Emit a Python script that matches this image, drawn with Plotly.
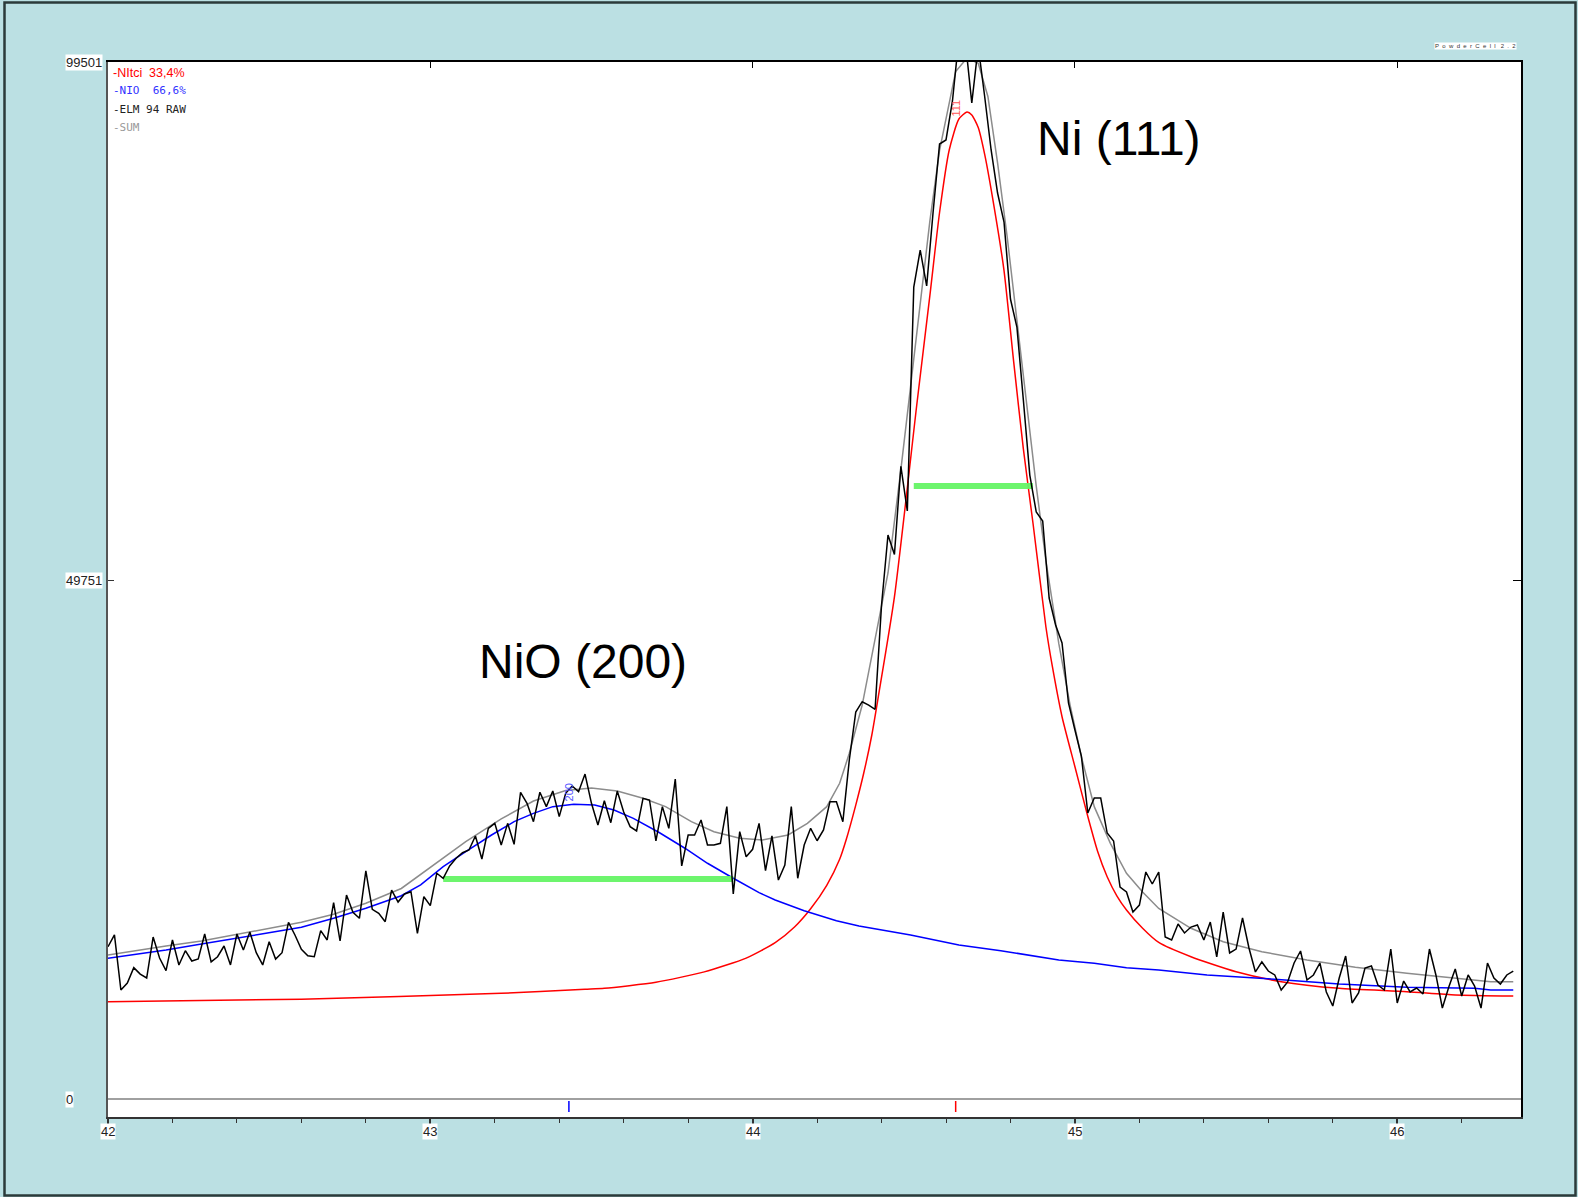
import plotly.graph_objects as go

# ---------------- data ----------------
# raw scan: 2-theta grid (start, step) and measured counts
scan_start = 42.00
scan_step = 0.02
raw_counts = [
    14610, 15740, 10460, 11130, 12600, 11990, 11610, 15540, 13530, 12310,
    15260, 12860, 14230, 13240, 13430, 15830, 13150, 13650, 14680, 12860,
    15830, 14300, 16020, 14040, 12860, 15090, 13430, 14040, 16950, 15740,
    14360, 13750, 13650, 16150, 15260, 18840, 15160, 19570, 17910, 17340,
    21880, 18200, 17820, 17010, 20050, 18900, 19670, 19890, 15900, 19410,
    18550, 21660, 21180, 22360, 23100, 23630, 23890, 25240, 23030, 25970,
    26450, 24370, 26450, 24440, 29430, 28370, 26610, 29430, 28050, 29550,
    27090, 29330, 30030, 29490, 31180, 28370, 26290, 28620, 26510, 29550,
    27540, 26130, 25720, 28850, 28690, 24760, 28050, 25970, 30700, 22360,
    25330, 25330, 26770, 24370, 24370, 24530, 28050, 19670, 25650, 23250,
    23960, 26450, 21910, 25240, 21010, 22450, 28050, 21180, 24370, 25970,
    24780, 25810, 28530, 28530, 26610, 32530, 37130, 38120, 37800, 37390,
    47400, 54120, 52240, 60710, 56420, 77910, 81460, 78010, 85110, 91630,
    92020, 95760, 101800, 101500, 95570, 101000, 96190, 91060, 86930, 84150,
    76760, 74070, 67070, 59870, 56320, 55460, 48070, 45480, 43750, 38000,
    35410, 32910, 27440, 28880, 28880, 25520, 24760, 20340, 19860, 17940,
    18610, 21780, 20630, 21780, 15540, 15260, 16790, 15930, 16500, 16700,
    15260, 16980, 13630, 17940, 14010, 14390, 17370, 14490, 12190, 13150,
    12280, 11900, 10460, 11230, 13050, 14200, 11420, 11900, 13050, 10270,
    8920, 11610, 13720, 9210, 10170, 12570, 12760, 10940, 10460, 14390,
    9210, 11320, 10270, 10650, 10080, 14390, 11900, 8730, 10750, 12470,
    9880, 11900, 10840, 8730, 13050, 11610, 11030, 11900, 12280,
]
raw_2theta = [round(scan_start + scan_step * i, 2) for i in range(len(raw_counts))]

# calculated Ni (111) profile
ni_2theta = [42.00, 42.60, 43.22, 43.48, 43.54, 43.70, 43.85, 43.98, 44.07, 44.13,
             44.18, 44.23, 44.27, 44.29, 44.32, 44.345, 44.37, 44.39, 44.44, 44.51,
             44.55, 44.58, 44.61, 44.64, 44.665, 44.68, 44.70, 44.72, 44.75, 44.78,
             44.81, 44.84, 44.87, 44.91, 44.93, 44.96, 45.00, 45.04, 45.07, 45.10,
             45.13, 45.16, 45.21, 45.26, 45.36, 45.50, 45.64, 45.82, 46.03, 46.18,
             46.36]
ni_counts = [9340, 9570, 10140, 10530, 10620, 11200, 12200, 13520, 15000, 16500,
             18250, 20500, 23000, 24850, 28200, 31300, 34950, 38600, 48170, 66780,
             77100, 85060, 91060, 94030, 94700, 94420, 93210, 90630, 85450, 79490,
             70730, 62380, 55220, 45290, 41500, 36680, 31880, 27100, 23800, 21330,
             19500, 18140, 16380, 15020, 13650, 12210, 11260, 10620, 10300, 9980,
             9880]

# calculated NiO (200) profile
nio_2theta = [42.00, 42.10, 42.18, 42.29, 42.39, 42.49, 42.60, 42.70, 42.80, 42.91,
              42.97, 43.04, 43.11, 43.19, 43.26, 43.32, 43.38, 43.445, 43.51, 43.57,
              43.63, 43.71, 43.79, 43.86, 43.94, 44.02, 44.07, 44.16, 44.26, 44.33,
              44.49, 44.64, 44.77, 44.85, 44.95, 45.06, 45.16, 45.26, 45.41, 45.62,
              45.82, 46.03, 46.24, 46.29, 46.36]
nio_counts = [13500, 13910, 14300, 14870, 15350, 15900, 16480, 17340, 18300, 19500,
              20550, 22290, 23730, 25330, 26610, 27410, 28050, 28280, 28210, 27730,
              26930, 25570, 24060, 22620, 21180, 19800, 19090, 18060, 17100, 16600,
              15740, 14780, 14230, 13820, 13340, 13020, 12600, 12380, 11900, 11490,
              11030, 10720, 10620, 10460, 10460]

# sum of both phases
sum_2theta = [42.00, 42.08, 42.18, 42.29, 42.39, 42.49, 42.60, 42.70, 42.80, 42.91,
              43.01, 43.11, 43.22, 43.32, 43.42, 43.50, 43.58, 43.66, 43.73, 43.81,
              43.88, 43.96, 44.03, 44.11, 44.17, 44.23, 44.27, 44.30, 44.34, 44.38,
              44.42, 44.46, 44.49, 44.52, 44.55, 44.58, 44.61, 44.63, 44.665, 44.70,
              44.73, 44.76, 44.79, 44.82, 44.85, 44.88, 44.91, 44.95, 44.985, 45.02,
              45.06, 45.11, 45.16, 45.21, 45.26, 45.36, 45.46, 45.58, 45.72, 45.87,
              46.03, 46.18, 46.29, 46.36]
sum_counts = [13820, 14230, 14680, 15160, 15740, 16280, 16950, 17720, 18780, 20200,
              22450, 24690, 26870, 28590, 29600, 29840, 29550, 28850, 28050, 26610,
              25650, 25010, 24850, 25330, 26450, 28050, 30290, 33170, 37800, 44040,
              50470, 60390, 68350, 76300, 84260, 91020, 95390, 98580, 99880, 99380,
              96190, 89830, 82670, 74720, 66750, 58800, 51640, 43690, 37800, 32840,
              28050, 24530, 21660, 19860, 18280, 16380, 15090, 14130, 13340, 12640,
              12060, 11580, 11260, 11260]

# reflex positions (hkl markers)
reflex_labels = ["200", "111"]
reflex_2theta = [43.43, 44.63]
reflex_label_level = [29400, 95100]

# FWHM indicators: start, end, level
fwhm_start = [43.04, 44.50]
fwhm_end = [43.94, 44.87]
fwhm_level = [21110, 58820]

# axis scale
x_ticks = [42, 43, 44, 45, 46]
y_ticks = [0, 49751, 99501]
x_min, x_max = 42.0, 46.384
y_min, y_max = -1727, 99501

# ---------------- style ----------------
BG = "#bbe0e3"
RED = "#ff0000"
BLUE = "#0000ff"
GREY = "#8c8c8c"
GREEN = "#66f566"
SANS = "Liberation Sans, Arial, sans-serif"
MONO = "DejaVu Sans Mono, monospace"

fig = go.Figure()

fig.add_trace(go.Scatter(x=ni_2theta, y=ni_counts, mode="lines",
                         line=dict(color=RED, width=1.5, shape="spline", smoothing=0.6),
                         hoverinfo="skip"))
fig.add_trace(go.Scatter(x=nio_2theta, y=nio_counts, mode="lines",
                         line=dict(color=BLUE, width=1.5), hoverinfo="skip"))
fig.add_trace(go.Scatter(x=sum_2theta, y=sum_counts, mode="lines",
                         line=dict(color=GREY, width=1.5), hoverinfo="skip"))

# FWHM bars
for xs, xe, lv in zip(fwhm_start, fwhm_end, fwhm_level):
    fig.add_trace(go.Scatter(x=[xs, xe], y=[lv, lv], mode="lines",
                             line=dict(color=GREEN, width=6), opacity=0.95,
                             hoverinfo="skip"))

fig.add_trace(go.Scatter(x=raw_2theta, y=raw_counts, mode="lines",
                         line=dict(color="black", width=1.5), hoverinfo="skip"))

# reflex ticks just below the zero line
reflex_colors = [BLUE, RED]
for pos, col in zip(reflex_2theta, reflex_colors):
    fig.add_trace(go.Scatter(x=[pos, pos], y=[-190, -1250], mode="lines",
                             line=dict(color=col, width=1.5), hoverinfo="skip"))

# invisible trace that carries the mirrored top / right axes
fig.add_trace(go.Scatter(x=[x_min], y=[y_min], xaxis="x2", yaxis="y2",
                         mode="markers", marker=dict(opacity=0), hoverinfo="skip"))

fig.update_layout(
    width=1578, height=1197,
    margin=dict(l=108, r=57, t=62, b=80),
    paper_bgcolor=BG, plot_bgcolor="white",
    showlegend=False,
    xaxis=dict(range=[x_min, x_max], showgrid=False, zeroline=False,
               showline=True, linecolor="#333333", linewidth=2,
               tickvals=x_ticks, ticks="outside", ticklen=7, tickwidth=1.5,
               tickcolor="#333333", showticklabels=False,
               minor=dict(dtick=0.2, tick0=42, ticks="outside", ticklen=4,
                          tickwidth=1.2, tickcolor="#333333", showgrid=False)),
    xaxis2=dict(range=[x_min, x_max], overlaying="x", side="top", anchor="y",
                showgrid=False, zeroline=False, showline=True,
                linecolor="black", linewidth=1.5, tickvals=x_ticks[1:],
                ticks="inside", ticklen=6, tickwidth=1.2, tickcolor="black",
                showticklabels=False),
    yaxis=dict(range=[y_min, y_max], showgrid=False, zeroline=False,
               showline=True, linecolor="#555555", linewidth=2,
               tickvals=[y_ticks[1]], ticks="inside", ticklen=6, tickwidth=1.2,
               tickcolor="#333333", showticklabels=False),
    yaxis2=dict(range=[y_min, y_max], overlaying="y", side="right", anchor="x",
                showgrid=False, zeroline=False, showline=True,
                linecolor="black", linewidth=2, tickvals=[y_ticks[1]],
                ticks="inside", ticklen=8, tickwidth=1.2, tickcolor="black",
                showticklabels=False),
)

# zero baseline
fig.add_shape(type="line", xref="paper", yref="y", x0=0, x1=1, y0=0, y1=0,
              line=dict(color="#a0a0a0", width=2), layer="below")

# outer frame of the picture
fig.add_shape(type="rect", xref="paper", yref="paper",
              x0=(4.5 - 108) / 1413, x1=(1575.5 - 108) / 1413,
              y0=(1117 - 1195.5) / 1055, y1=(1117 - 2.5) / 1055,
              line=dict(color="#2b3a3a", width=2.5), layer="above")

ann = []
# x tick labels
for t in x_ticks:
    ann.append(dict(x=t, y=(1117 - 1131) / 1055, xref="x", yref="paper",
                    text=str(t), showarrow=False, xanchor="center", yanchor="middle",
                    font=dict(family=SANS, size=13, color="#222222"),
                    bgcolor="white", borderpad=0))
# y tick labels
for t in y_ticks:
    ann.append(dict(x=(65 - 108) / 1413, y=t, xref="paper", yref="y",
                    text=str(t), showarrow=False, xanchor="left", yanchor="middle",
                    font=dict(family=SANS, size=13, color="#222222"),
                    bgcolor="white", borderpad=0))

# phase list
legend_rows = [
    ("-NItci  33,4%", RED, SANS, 12.5),
    ("-NIO  66,6%", "#3333ff", MONO, 11),
    ("-ELM 94 RAW", "#222222", MONO, 11),
    ("-SUM", "#999999", MONO, 11),
]
for k, (txt, col, fam, sz) in enumerate(legend_rows):
    ann.append(dict(x=(111 - 108) / 1413, y=(1117 - (72.7 + 18.2 * k)) / 1055,
                    xref="paper", yref="paper", text=txt, showarrow=False,
                    xanchor="left", yanchor="middle",
                    font=dict(family=fam, size=sz, color=col)))

# program tag
ann.append(dict(x=(1475.5 - 108) / 1413, y=(1117 - 46) / 1055, xref="paper",
                yref="paper",
                text="P\u00a0 o\u00a0 w\u00a0 d\u00a0 e\u00a0 r\u00a0 C\u00a0 e\u00a0 l\u00a0 l\u00a0\u00a0 2\u00a0 .\u00a0 2",
                showarrow=False, xanchor="center", yanchor="middle",
                font=dict(family=SANS, size=6, color="#333333"),
                bgcolor="white", borderpad=0))

# hkl labels at reflex positions
hkl_colors = ["#5555ff", "#ff5555"]
for lab, pos, lv, col in zip(reflex_labels, reflex_2theta, reflex_label_level, hkl_colors):
    ann.append(dict(x=pos, y=lv, xref="x", yref="y", text=lab, showarrow=False,
                    textangle=-90, xanchor="center", yanchor="middle",
                    font=dict(family=SANS, size=11, color=col)))

# peak names
ann.append(dict(x=(1119 - 108) / 1413, y=(1117 - 139) / 1055, xref="paper",
                yref="paper", text="Ni (111)", showarrow=False,
                xanchor="center", yanchor="middle",
                font=dict(family=SANS, size=48, color="black")))
ann.append(dict(x=(582.5 - 108) / 1413, y=(1117 - 661) / 1055, xref="paper",
                yref="paper", text="NiO (200)", showarrow=False,
                xanchor="center", yanchor="middle",
                font=dict(family=SANS, size=48, color="black")))

fig.update_layout(annotations=ann)

fig.write_html("out.html")
